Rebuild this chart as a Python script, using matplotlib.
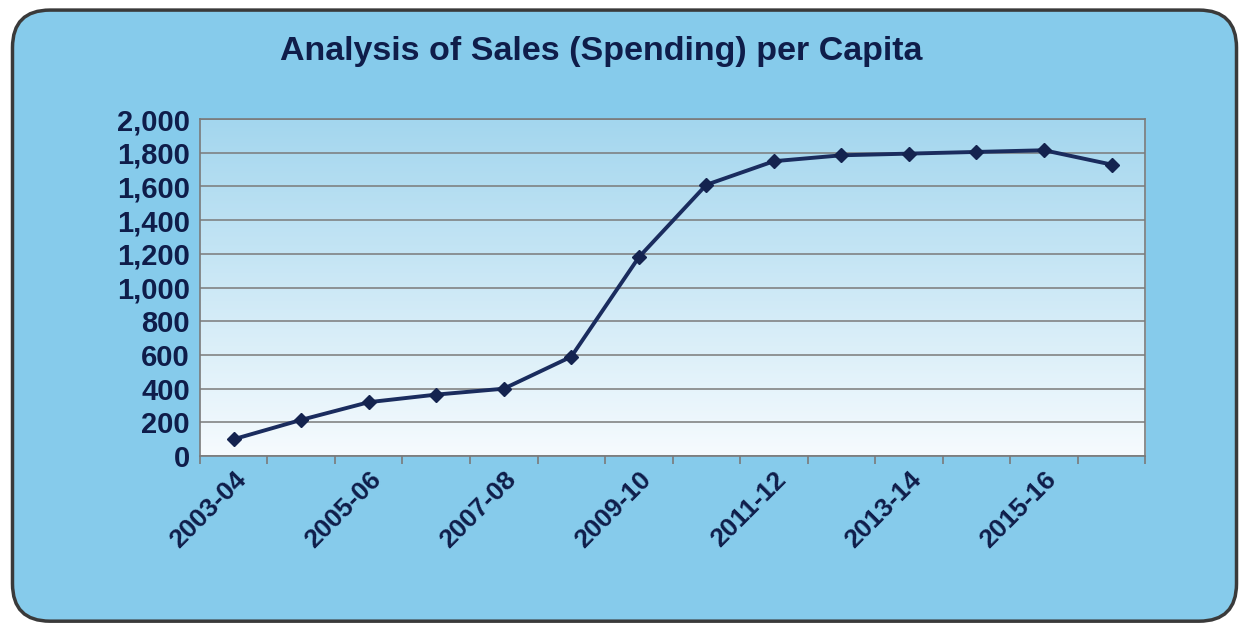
import matplotlib
matplotlib.use("Agg")
import matplotlib.pyplot as plt
import numpy as np
from matplotlib.patches import FancyBboxPatch
from matplotlib.ticker import FuncFormatter, FixedLocator

categories = ["2003-04", "2004-05", "2005-06", "2006-07", "2007-08", "2008-09",
              "2009-10", "2010-11", "2011-12", "2012-13", "2013-14", "2014-15",
              "2015-16", "2016-17"]
values = [100, 215, 320, 365, 400, 590, 1180, 1610, 1750, 1785, 1795, 1805, 1815, 1730]
yticks = [0, 200, 400, 600, 800, 1000, 1200, 1400, 1600, 1800, 2000]
title = "Analysis of Sales (Spending) per Capita"

plt.rcParams['font.family'] = ['Liberation Sans', 'DejaVu Sans']
navy = "#0f1d4a"

fig = plt.figure(figsize=(12.49, 6.30), dpi=100)
fig.patch.set_facecolor("white")

# rounded background panel
bg = FancyBboxPatch((0.010, 0.014), 0.980, 0.970,
                    boxstyle="round,pad=0,rounding_size=0.03",
                    transform=fig.transFigure, facecolor="#86cbeb",
                    edgecolor="#3a3a3a", linewidth=2.5, zorder=-5,
                    mutation_aspect=1249/630)
fig.patches.append(bg)

ax = fig.add_axes([0.160, 0.276, 0.757, 0.535])
ax.set_zorder(1)
x = np.arange(len(categories))
ax.set_xlim(-0.5, len(categories) - 0.5)
ax.set_ylim(0, 2000)

# plot-area gradient
grad = np.linspace(0, 1, 256).reshape(-1, 1)
top = np.array([0xa3, 0xd6, 0xee]) / 255
bot = np.array([0xf6, 0xfb, 0xfe]) / 255
img = top * (1 - grad[..., None]) + bot * grad[..., None]
img = img.reshape(256, 1, 3)
ax.imshow(img, extent=[0, 1, 0, 1], transform=ax.transAxes, aspect='auto', zorder=0)

ax.yaxis.set_major_locator(FixedLocator(yticks))
ax.grid(axis='y', color="#7a7a7a", linewidth=1.1, zorder=1)
ax.set_axisbelow(True)

ax.plot(x, values, color="#1a2c5e", linewidth=2.8, marker='D', markersize=7.5,
        markerfacecolor="#14234f", markeredgecolor="#14234f", zorder=3)

for s in ax.spines.values():
    s.set_color("#7a7a7a")
    s.set_linewidth(1.2)

ax.yaxis.set_major_formatter(FuncFormatter(lambda v, p: f"{int(v):,}"))
ax.tick_params(axis='y', length=0, pad=7, labelsize=21, labelcolor=navy)
for lab in ax.get_yticklabels():
    lab.set_fontweight('bold')

ax.set_xticks(x[::2])
ax.set_xticklabels(categories[::2], rotation=45, ha='right', va='top',
                   rotation_mode='anchor', fontsize=19, fontweight='bold', color=navy)
ax.tick_params(axis='x', which='major', length=0, pad=8)
ax.set_xticks(np.arange(-0.5, len(categories), 1), minor=True)
ax.tick_params(axis='x', which='minor', length=6, color="#7a7a7a", width=1.2)

fig.text(0.481, 0.918, title, ha='center', va='center', fontsize=24.5,
         fontweight='bold', color=navy)

fig.savefig("out.png", dpi=100, facecolor=fig.get_facecolor())
